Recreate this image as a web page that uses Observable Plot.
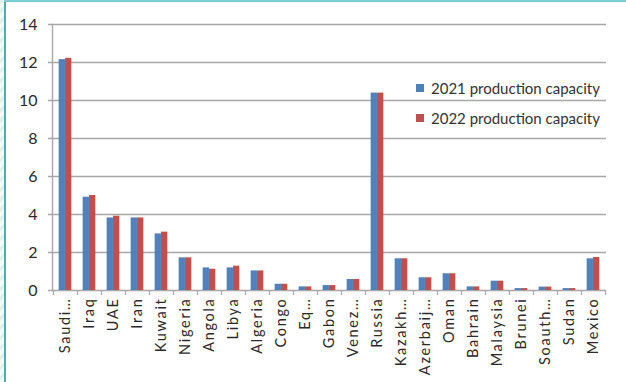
<!DOCTYPE html>
<html>
<head>
<meta charset="utf-8">
<script src="https://cdn.jsdelivr.net/npm/d3@7"></script>
<script src="https://cdn.jsdelivr.net/npm/@observablehq/plot@0.6"></script>
<style>
  body { margin: 0; background: #fff; }
  #wrap { position: relative; width: 626px; height: 382px; overflow: hidden; font-family: Lato, "Open Sans", sans-serif; }
  #stripe { position: absolute; left: 0; top: 0; width: 4px; height: 382px;
    background: repeating-linear-gradient(135deg, #e4eef0 0 3px, #f7fafa 3px 7px); }
  #lborder { position: absolute; left: 4px; top: 0; width: 1.5px; height: 382px; background: #4aaeb4; }
  #tborder { position: absolute; left: 4px; top: 0; width: 622px; height: 1.5px; background: #79cdd3; }
  #legend { position: absolute; left: 416px; top: 73px; font-size: 15px; color: #333; }
  .li { display: flex; align-items: center; height: 30px; }
  .sw { width: 8px; height: 8px; margin-right: 7px; }
  svg { position: absolute; left: 0; top: 0; }
  .xlab text { font-size: 14.5px; letter-spacing: 1.7px; }
  .ylab text { font-size: 16px; }
</style>
</head>
<body>
<div id="wrap">
  <div id="stripe"></div>
  <div id="lborder"></div>
  <div id="tborder"></div>
  <div id="legend"></div>
</div>
<script>
const countries = ["Saudi…","Iraq","UAE","Iran","Kuwait","Nigeria","Angola","Libya","Algeria","Congo","Eq…","Gabon","Venez…","Russia","Kazakh…","Azerbaij…","Oman","Bahrain","Malaysia","Brunei","Soauth…","Sudan","Mexico"];
const cap2021 = [12.15,4.91,3.82,3.82,2.98,1.72,1.19,1.19,1.03,0.33,0.19,0.26,0.58,10.39,1.67,0.67,0.88,0.19,0.49,0.10,0.18,0.10,1.67];
const cap2022 = [12.22,5.00,3.91,3.82,3.07,1.72,1.12,1.28,1.03,0.33,0.19,0.26,0.58,10.39,1.67,0.67,0.88,0.19,0.49,0.10,0.18,0.10,1.74];
const seriesNames = ["2021 production capacity","2022 production capacity"];
const seriesColors = ["#4f81bd","#c0504d"];
const yTicks = [0,2,4,6,8,10,12,14];

const rows = [];
countries.forEach((c, i) => {
  rows.push({country: c, series: seriesNames[0], value: cap2021[i]});
  rows.push({country: c, series: seriesNames[1], value: cap2022[i]});
});

const W = 626, H = 382;
const mL = 52, mR = 20, mT = 24, mB = 92;
const band = (W - mL - mR) / countries.length;
const outer = band * 0.235, half = band / 2;
const grid = "#a8a8a8";

const plot = Plot.plot({
  width: W, height: H,
  marginLeft: mL, marginRight: mR, marginTop: mT, marginBottom: mB,
  style: {fontFamily: "Lato, 'Open Sans', sans-serif", fontSize: "14px", background: "transparent", color: "#333", overflow: "visible"},
  x: {type: "band", domain: countries, padding: 0, axis: null, label: null},
  y: {type: "linear", domain: [0, 14], axis: null, label: null},
  marks: [
    Plot.ruleY(yTicks, {y: d => d, stroke: grid, strokeWidth: 1.4, insetLeft: -4}),
    Plot.barY(rows.filter(d => d.series === seriesNames[0]), {x: "country", y: "value", fill: seriesColors[0], insetLeft: outer, insetRight: half}),
    Plot.barY(rows.filter(d => d.series === seriesNames[1]), {x: "country", y: "value", fill: seriesColors[1], insetLeft: half, insetRight: outer}),
    Plot.frame({anchor: "left", stroke: grid, strokeWidth: 1.4}),
    Plot.axisX(countries, {tickSize: 5, stroke: grid, strokeWidth: 1.2, text: null, dx: -half, label: null}),
    Plot.axisX([countries[countries.length - 1]], {tickSize: 5, stroke: grid, strokeWidth: 1.2, text: null, dx: half, label: null}),
    Plot.axisY(yTicks, {tickSize: 0, tickPadding: 15, fill: "#2a2a2a", label: null, className: "ylab"}),
    Plot.axisX(countries, {tickSize: 0, tickRotate: -90, tickPadding: 7, fill: "#2a2a2a", label: null, className: "xlab"})
  ]
});
document.getElementById("wrap").appendChild(plot);

const leg = document.getElementById("legend");
seriesNames.forEach((n, i) => {
  const d = document.createElement("div");
  d.className = "li";
  d.innerHTML = `<span class="sw" style="background:${seriesColors[i]}"></span><span>${n}</span>`;
  leg.appendChild(d);
});
</script>
</body>
</html>
